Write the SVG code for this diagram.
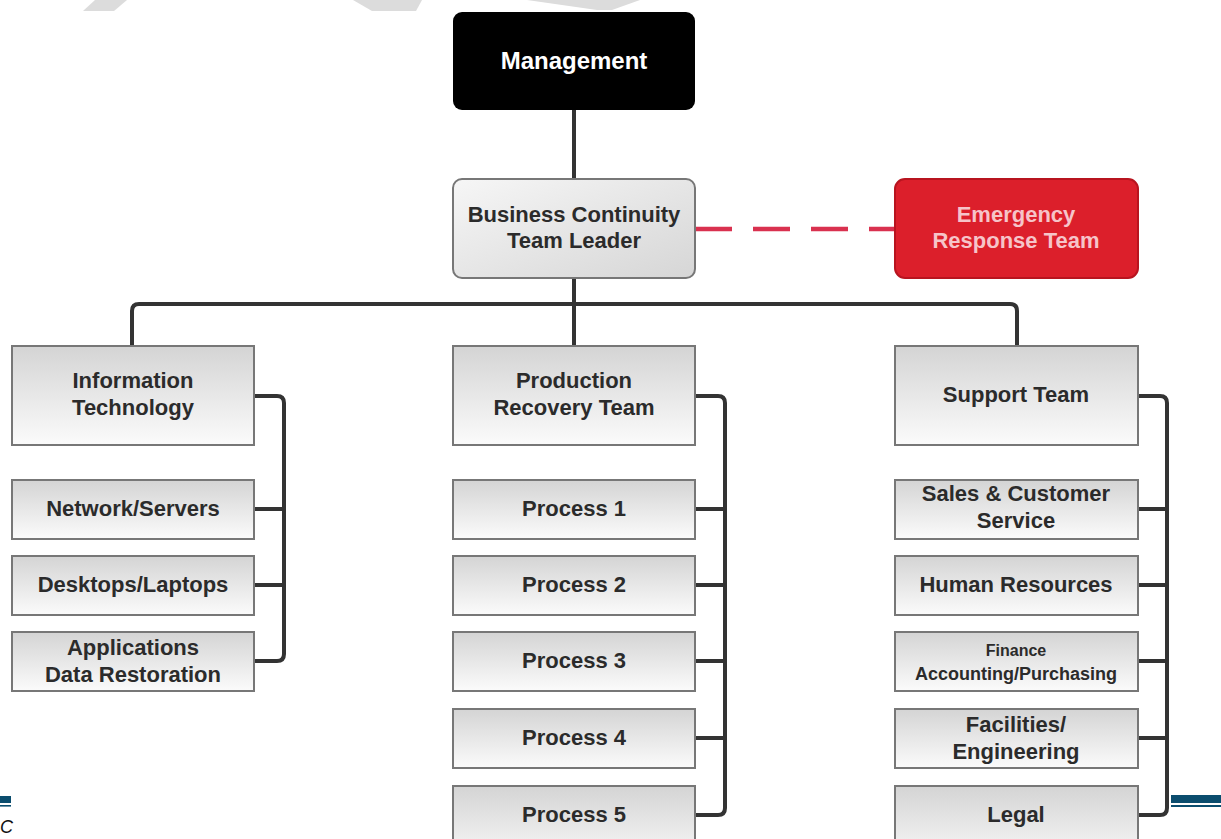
<svg xmlns="http://www.w3.org/2000/svg" width="1221" height="839" viewBox="0 0 1221 839">
<defs>
<linearGradient id="gBox" x1="0" y1="0" x2="0" y2="1">
<stop offset="0" stop-color="#d4d4d4"/>
<stop offset="1" stop-color="#fbfbfb"/>
</linearGradient>
<linearGradient id="gLead" x1="0" y1="0" x2="1" y2="1">
<stop offset="0" stop-color="#f6f6f6"/>
<stop offset="1" stop-color="#d6d6d6"/>
</linearGradient>
<style>
.box{fill:url(#gBox);stroke:#777;stroke-width:2}
.t{font-family:"Liberation Sans",Arial,sans-serif;font-weight:bold;font-size:22px;fill:#2b2b2b;text-anchor:middle}
.t.ts{font-size:18px}
.t.tf{font-size:16px}
.t.tm{font-size:24px}
.w{fill:#fff}
.r{fill:#f6c4c9}
.ln{fill:none;stroke:#333;stroke-width:4;stroke-linejoin:round}
.wm{fill:#dcdcdc}
.blue{fill:#0b4d6e}
</style>
</defs>
<rect width="1221" height="839" fill="#fff"/>
<g id="watermark">
<polygon class="wm" points="95,0 127,0 114,11 83,11"/>
<polygon class="wm" points="353,0 422,0 416,11 372,11"/>
<polygon class="wm" points="527,0 640,0 612,10 597,10"/>
</g>
<g id="page-bars">
<rect class="blue" x="0" y="796" width="11" height="7"/>
<rect class="blue" x="0" y="805" width="11" height="1.6"/>
<rect class="blue" x="1171" y="795" width="50" height="8"/>
<rect class="blue" x="1171" y="805" width="50" height="2"/>
<text x="0" y="833" font-family="Liberation Sans,Arial,sans-serif" font-style="italic" font-size="18" fill="#111">C</text>
</g>
<g id="connectors">
<line x1="574" y1="110" x2="574" y2="180" class="ln"/>
<line x1="574" y1="278" x2="574" y2="346" class="ln"/>
<path class="ln" d="M132,346 V311 Q132,304 139,304 H1010 Q1017,304 1017,311 V346"/>
<line x1="695" y1="229" x2="895" y2="229" stroke="#d9314f" stroke-width="4.5" stroke-dasharray="37 21"/>
<path class="ln" d="M254,396 H277 Q284,396 284,403 V654 Q284,661 277,661 H254 M254,509 H284 M254,585 H284"/>
<path class="ln" d="M695,396 H718 Q725,396 725,403 V808 Q725,815 718,815 H695 M695,509 H725 M695,585 H725 M695,661 H725 M695,738 H725"/>
<path class="ln" d="M1138,396 H1160 Q1167,396 1167,403 V808 Q1167,815 1160,815 H1138 M1138,509 H1167 M1138,585 H1167 M1138,661 H1167 M1138,738 H1167"/>
</g>
<g id="management">
<rect x="453" y="12" width="242" height="98" rx="9" fill="#000"/>
<text class="t tm w" x="574" y="69">Management</text>
</g>
<g id="bc-leader">
<rect x="453" y="179" width="242" height="99" rx="9" fill="url(#gLead)" stroke="#777" stroke-width="2"/>
<text class="t" x="574" y="222">Business Continuity</text>
<text class="t" x="574" y="248">Team Leader</text>
</g>
<g id="emergency">
<rect x="895" y="179" width="243" height="99" rx="10" fill="#dc1f2b" stroke="#b8141f" stroke-width="2"/>
<text class="t r" x="1016" y="222">Emergency</text>
<text class="t r" x="1016" y="248">Response Team</text>
</g>
<g id="it">
<rect class="box" x="12" y="346" width="242" height="99"/>
<text class="t" x="133" y="388">Information</text>
<text class="t" x="133" y="415">Technology</text>
</g>
<g id="network">
<rect class="box" x="12" y="480" width="242" height="59"/>
<text class="t" x="133" y="516">Network/Servers</text>
</g>
<g id="desktops">
<rect class="box" x="12" y="556" width="242" height="59"/>
<text class="t" x="133" y="592">Desktops/Laptops</text>
</g>
<g id="applications">
<rect class="box" x="12" y="632" width="242" height="59"/>
<text class="t" x="133" y="655">Applications</text>
<text class="t" x="133" y="682">Data Restoration</text>
</g>
<g id="production">
<rect class="box" x="453" y="346" width="242" height="99"/>
<text class="t" x="574" y="388">Production</text>
<text class="t" x="574" y="415">Recovery Team</text>
</g>
<g id="process1">
<rect class="box" x="453" y="480" width="242" height="59"/>
<text class="t" x="574" y="516">Process 1</text>
</g>
<g id="process2">
<rect class="box" x="453" y="556" width="242" height="59"/>
<text class="t" x="574" y="592">Process 2</text>
</g>
<g id="process3">
<rect class="box" x="453" y="632" width="242" height="59"/>
<text class="t" x="574" y="668">Process 3</text>
</g>
<g id="process4">
<rect class="box" x="453" y="709" width="242" height="59"/>
<text class="t" x="574" y="745">Process 4</text>
</g>
<g id="process5">
<rect class="box" x="453" y="786" width="242" height="80"/>
<text class="t" x="574" y="822">Process 5</text>
</g>
<g id="support">
<rect class="box" x="895" y="346" width="243" height="99"/>
<text class="t" x="1016" y="402">Support Team</text>
</g>
<g id="sales">
<rect class="box" x="895" y="480" width="243" height="59"/>
<text class="t" x="1016" y="501">Sales &amp; Customer</text>
<text class="t" x="1016" y="528">Service</text>
</g>
<g id="hr">
<rect class="box" x="895" y="556" width="243" height="59"/>
<text class="t" x="1016" y="592">Human Resources</text>
</g>
<g id="finance">
<rect class="box" x="895" y="632" width="243" height="59"/>
<text class="t tf" x="1016" y="656">Finance</text>
<text class="t ts" x="1016" y="680">Accounting/Purchasing</text>
</g>
<g id="facilities">
<rect class="box" x="895" y="709" width="243" height="59"/>
<text class="t" x="1016" y="732">Facilities/</text>
<text class="t" x="1016" y="759">Engineering</text>
</g>
<g id="legal">
<rect class="box" x="895" y="786" width="243" height="80"/>
<text class="t" x="1016" y="822">Legal</text>
</g>
</svg>
